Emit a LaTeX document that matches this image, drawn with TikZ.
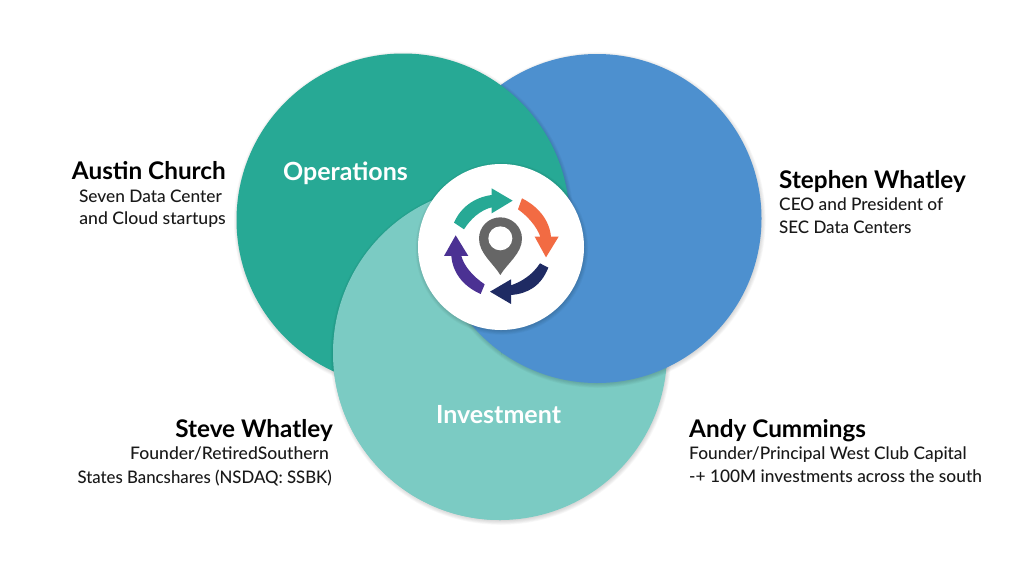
\documentclass[tikz,border=0pt]{standalone}
\usepackage{fontspec}
\setmainfont{Lato}[Ligatures=Common]
\newfontfamily\lmed{Lato Medium}[Ligatures=Common]
\definecolor{cgreen}{HTML}{27A995}
\definecolor{cblue}{HTML}{4D90CF}
\definecolor{cteal}{HTML}{7BCBC3}
\definecolor{corange}{HTML}{F26B43}
\definecolor{cnavy}{HTML}{1F2B63}
\definecolor{cpurple}{HTML}{4B3193}
\definecolor{cpin}{HTML}{666666}
\newcommand{\softshadow}[3]{%
  \foreach \i in {1,...,6}{%
    \fill[black,opacity=.028] ({#1+.8},{#2+1.5}) circle ({#3+\i*.8-1.5});}}
\tikzset{
  namestyle/.style={inner sep=0pt,font=\fontsize{24.3}{25}\selectfont\bfseries,text=black},
  substyle/.style={inner sep=0pt,font=\fontsize{17.3}{17}\lmed,text=black!90},
  areastyle/.style={inner sep=0pt,font=\fontsize{25}{25}\selectfont\bfseries,text=white},
}
\begin{document}
\begin{tikzpicture}[x=1pt,y=-1pt]
\useasboundingbox (0,0) rectangle (1024,568);
% teal base
\softshadow{500}{353}{167}
\fill[cteal] (500,353) circle (167);
% blue
\softshadow{597}{218.5}{164.5}
\fill[cblue] (597,218.5) circle (164.5);
% green, on blue
\begin{scope}
  \clip (0,0) -- (1024,0) -- (1024,247) -- (450,247) -- (450,568) -- (0,568) -- cycle;
  \softshadow{403}{220}{166.5}
  \fill[cgreen] (403,220) circle (166.5);
\end{scope}
% teal, on green (left half only)
\begin{scope}
  \clip (0,0) rectangle (501,568);
  \begin{scope}
    \clip (403,220) circle (166.5);
    \softshadow{500}{353}{167}
  \end{scope}
  \fill[cteal] (500,353) circle (167);
\end{scope}
% blue, on teal (left-bottom part)
\begin{scope}
  \clip (0,247) rectangle (501,568);
  \softshadow{597}{218.5}{164.5}
\end{scope}
\begin{scope}
  \clip (0,247) rectangle (504,568);
  \fill[cblue] (597,218.5) circle (164.5);
\end{scope}
% centre disc
\softshadow{501}{247}{83}
\fill[white] (501,247) circle (83);
% cycle arrows
\begin{scope}[shift={(440,180)},x=.3333pt,y=-.3333pt]
  \fill[cgreen] (42,128) .. controls (62,82) and (103,52) .. (155,45) -- (155,25) -- (218,62) -- (155,100) -- (155,82) .. controls (122,90) and (92,116) .. (72,148) -- cycle;
  \fill[corange] (246,55) .. controls (292,78) and (328,118) .. (333,170) -- (356,170) -- (318,232) -- (284,170) -- (301,170) .. controls (290,140) and (265,110) .. (234,88) -- cycle;
  \fill[cnavy] (325,263) .. controls (303,318) and (264,341) .. (213,345) -- (213,372) -- (150,335) -- (213,298) -- (213,316) .. controls (245,305) and (277,285) .. (300,250) -- cycle;
  \fill[cpurple] (122,342) .. controls (68,318) and (38,277) .. (34,228) -- (12,228) -- (47,166) -- (85,228) -- (64,228) .. controls (73,260) and (100,290) .. (134,313) -- cycle;
  \fill[cpin] (181,285) .. controls (160,250) and (117,220) .. (117,176) .. controls (117,140) and (146,112) .. (181,112) .. controls (216,112) and (246,140) .. (246,176) .. controls (246,220) and (202,250) .. (181,285) -- cycle;
  \fill[white] (181,175) circle (12pt);
\end{scope}
% labels
\node[areastyle,anchor=base] (ops) at (345.5,180) {Operations};
\node[areastyle,anchor=base] (inv) at (498.5,423) {Investment};
\node[namestyle,anchor=base east] (austin) at (226,179) {Austin Church};
\node[substyle,anchor=base east] (austin1) at (222,202) {Seven Data Center};
\node[substyle,anchor=base east] (austin2) at (226,224) {\scalebox{1.02}[1]{and Cloud startups}};
\node[namestyle,anchor=base west] (stephen) at (779,188) {Stephen Whatley};
\node[substyle,anchor=base west] (stephen1) at (779,210) {CEO and President of};
\node[substyle,anchor=base west] (stephen2) at (779,233) {\scalebox{.98}[1]{SEC Data Centers}};
\node[namestyle,anchor=base east] (steve) at (333,437) {Steve Whatley};
\node[substyle,anchor=base east] (steve1) at (329,459) {\scalebox{1.015}[1]{Founder/RetiredSouthern}};
\node[substyle,anchor=base east] (steve2) at (332,483) {\scalebox{.97}[1]{States Bancshares (NSDAQ: SSBK)}};
\node[namestyle,anchor=base west] (andy) at (689,437) {Andy Cummings};
\node[substyle,anchor=base west] (andy1) at (689,459) {Founder/Principal West Club Capital};
\node[substyle,anchor=base west] (andy2) at (689,482) {-+ 100M investments across the south};
\end{tikzpicture}
\end{document}
